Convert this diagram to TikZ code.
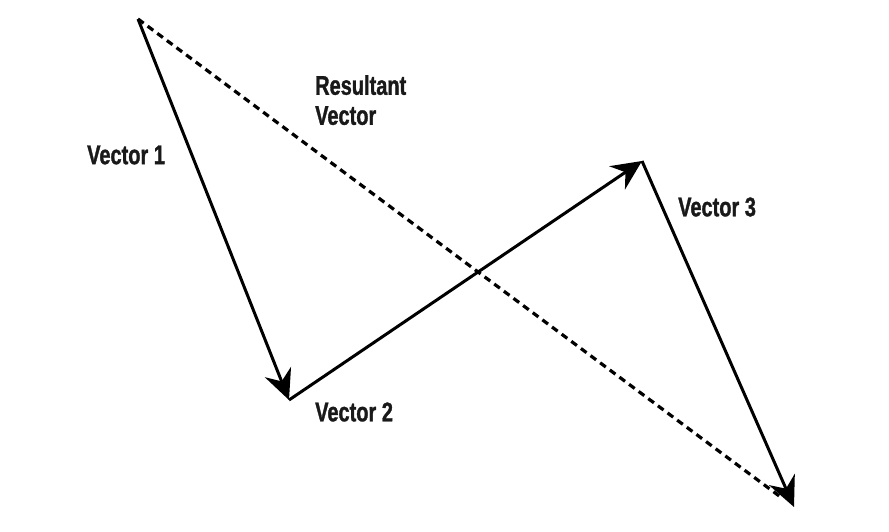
\documentclass[tikz,border=0pt]{standalone}
\usepackage{fontspec}
\setmainfont{Liberation Sans}[FakeStretch=0.74,BoldFeatures={FakeBold=1.2}]
\usetikzlibrary{arrows.meta}
\begin{document}
\begin{tikzpicture}[x=1pt,y=-1pt,
  vec/.style={line width=3pt,-{Stealth[length=30pt,width=28pt,inset=10pt]}},
  res/.style={line width=3.2pt,dash pattern=on 7pt off 5pt},
  lab/.style={font=\fontsize{27}{30}\selectfont\bfseries,text=black!90,inner sep=0pt}]
\useasboundingbox (0,0) rectangle (889,531);
\coordinate (O) at (138,19);
\coordinate (A) at (289,400);
\coordinate (B) at (642,161);
\coordinate (C) at (794,507);
\draw[res,shorten >=14pt] (O) -- (C);
\draw[vec] (O) -- (A);
\draw[vec] (A) -- (B);
\draw[vec] (B) -- (C);
\node[lab,anchor=west] (l1) at (87,155) {Vector 1};
\node[lab,anchor=west] (l2) at (315,412) {Vector 2};
\node[lab,anchor=west] (l3) at (678,207) {Vector 3};
\node[lab,anchor=north west,align=left] (lr) at (315,75) {Resultant\\Vector};
\end{tikzpicture}
\end{document}
